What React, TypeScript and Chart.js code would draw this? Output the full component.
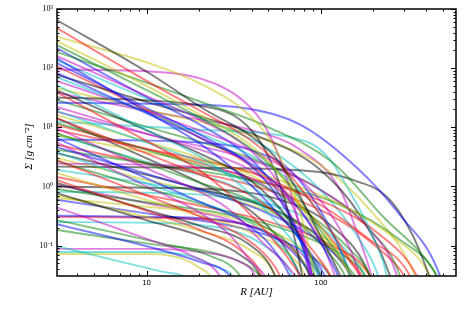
import { useEffect, useRef } from 'react';
import { Chart, registerables } from 'chart.js';

Chart.register(...registerables);

// Axis ranges and tick labels
const radiusRange = [3.06, 596];
const sigmaRange = [0.0306, 1000];
const radiusTickValues = [10, 100];
const radiusTickLabels = ['10', '100'];
const sigmaTickValues = [0.1, 1, 10, 100, 1000];
const sigmaTickLabels = ['10⁻¹', '10⁰', '10¹', '10²', '10³'];

// Colour code of each profile (matplotlib classic b g r c m y k)
const profileColorCodes = [
  'k', 'r', 'y', 'y', 'g', 'g', 'm', 'b', 'b', 'm',
  'b', 'c', 'm', 'c', 'k', 'r', 'k', 'b', 'm', 'c',
  'y', 'r', 'g', 'c', 'm', 'r', 'g', 'b', 'm', 'b',
  'b', 'c', 'k', 'r', 'g', 'm', 'k', 'y', 'r', 'r',
  'k', 'k', 'g', 'c', 'k', 'y', 'y', 'm', 'b', 'r',
  'g', 'c', 'b', 'c', 'm', 'c', 'y', 'y', 'r', 'm',
  'g', 'c', 'b', 'g', 'r', 'c', 'y', 'm', 'b', 'k',
  'g', 'r', 'y', 'c', 'm', 'k',
];

// Surface density profiles: [R (AU), Sigma (g cm^-2)]
const surfaceDensityProfiles: [number, number][][] = [
  [[3, 668], [10.4, 81], [20.2, 22.4], [51, 3.9], [66.4, 1.4], [92, 0.224], [129, 0.031], [147, 0.012]],
  [[3, 490], [10.4, 57], [20.2, 19.2], [39, 6.2], [66, 1.58], [99, 0.33], [147, 0.057], [172, 0.031], [195, 0.014]],
  [[3, 344], [10.4, 120], [20.2, 55], [35.7, 20], [51, 6.2], [66, 1.3], [81, 0.185], [92, 0.031], [99, 0.012]],
  [[3, 295], [10.4, 47], [20.2, 16.4], [39, 5.1], [58, 1.58], [86.5, 0.27], [129, 0.057], [151, 0.031], [165, 0.016]],
  [[3, 252], [10.4, 40], [20.2, 14.6], [39, 4.5], [66, 1.07], [99, 0.185], [147, 0.039], [157, 0.031], [175, 0.016]],
  [[3, 192], [20.2, 27.3], [49, 10.3], [117, 2.52], [227, 0.31], [440, 0.039], [482, 0.022]],
  [[3, 164], [10.4, 32], [20.2, 13.5], [39, 4.2], [58, 1.07], [76, 0.224], [89, 0.031], [94, 0.012]],
  [[3, 152], [10.4, 17.1], [20.2, 5.3], [34.3, 1.58], [51, 0.49], [76, 0.125], [105, 0.031], [115, 0.015]],
  [[3, 125], [10.4, 20], [20.2, 7.5], [39, 2.33], [58, 0.6], [76, 0.125], [89, 0.031], [95, 0.012]],
  [[3, 95], [10.4, 88], [20.2, 67], [35.7, 28.4], [49, 9.1], [64, 1.3], [76, 0.185], [86.5, 0.031], [90, 0.012]],
  [[3, 84.5], [10.4, 16.4], [20.2, 6.7], [44.7, 1.92], [76, 0.4], [113, 0.057], [125, 0.031], [137, 0.012]],
  [[3, 72], [10.4, 17.1], [20.2, 7.8], [39, 3.44], [76, 0.88], [113, 0.185], [147, 0.031], [157, 0.012]],
  [[3, 62], [10.4, 17.7], [20.2, 8.8], [44.7, 3.44], [76, 1.3], [129, 0.185], [167, 0.031], [179, 0.012]],
  [[3, 53], [10.4, 8.45], [20.2, 3.2], [34.3, 1.07], [51, 0.33], [76, 0.085], [99, 0.031], [110, 0.016]],
  [[3, 43.5], [10.4, 8.45], [20.2, 3.58], [39, 1.3], [66, 0.27], [86.5, 0.07], [99, 0.031], [105, 0.016]],
  [[3, 40], [10.4, 5.5], [20.2, 1.85], [30, 0.72], [44.7, 0.224], [76, 0.031], [86, 0.015]],
  [[3, 32], [10.4, 28.4], [20.2, 23.3], [34.3, 13.5], [47.7, 4.2], [62, 0.6], [73, 0.085], [78, 0.031], [81, 0.015]],
  [[3, 26], [10.4, 25], [34.3, 21.6], [76, 11.1], [161, 2.07], [284, 0.33], [482, 0.031], [514, 0.015]],
  [[3, 22.4], [10.4, 7.5], [20.2, 4.2], [39, 1.92], [66, 0.6], [99, 0.125], [120, 0.031], [130, 0.014]],
  [[3, 19.2], [10.4, 5.3], [20.2, 2.62], [39, 1.07], [58, 0.4], [76, 0.125], [92, 0.031], [99, 0.014]],
  [[3, 16.4], [10.4, 5.5], [20.2, 3.06], [39, 1.58], [76, 0.49], [113, 0.125], [147, 0.031], [160, 0.013]],
  [[3, 14.6], [10.4, 3.44], [20.2, 1.58], [39, 0.72], [66, 0.224], [99, 0.057], [113, 0.031], [122, 0.015]],
  [[3, 12], [10.4, 4.0], [20.2, 2.24], [44.7, 1.07], [86.5, 0.33], [147, 0.085], [191, 0.031], [205, 0.015]],
  [[3, 12.5], [20.2, 9.1], [83, 5.7], [113, 2.83], [141, 0.99], [191, 0.185], [239, 0.031], [249, 0.015]],
  [[3, 9.9], [10.4, 1.92], [20.2, 0.81], [30, 0.4], [44.7, 0.125], [71, 0.031], [80, 0.016]],
  [[3, 9.1], [10.4, 4.2], [20.2, 2.84], [44.7, 1.52], [99, 0.49], [191, 0.125], [324, 0.031], [346, 0.018]],
  [[3, 8.1], [10.4, 2.33], [20.2, 1.16], [39, 0.6], [76, 0.224], [113, 0.07], [137, 0.031], [147, 0.016]],
  [[3, 6.7], [10.4, 1.3], [20.2, 0.55], [34.3, 0.273], [51, 0.103], [66, 0.031], [72, 0.014]],
  [[3, 5.7], [10.4, 0.95], [20.2, 0.36], [30, 0.152], [39, 0.057], [47.7, 0.031], [52, 0.018]],
  [[3, 6.2], [10.4, 5.95], [20.2, 5.5], [39, 4.2], [66, 1.92], [99, 0.4], [129, 0.085], [147, 0.031], [157, 0.014]],
  [[3, 4.7], [10.4, 1.58], [20.2, 0.88], [44.7, 0.4], [86.5, 0.152], [129, 0.057], [151, 0.031], [165, 0.015]],
  [[3, 3.87], [10.4, 1.07], [20.2, 0.55], [39, 0.25], [58, 0.103], [76, 0.031], [82, 0.014]],
  [[3, 3.7], [10.4, 1.52], [20.2, 0.91], [44.7, 0.49], [86.5, 0.185], [129, 0.057], [147, 0.031], [157, 0.015]],
  [[3, 2.84], [10.4, 0.67], [20.2, 0.31], [34.3, 0.152], [51, 0.057], [58, 0.031], [62, 0.016]],
  [[3, 2.73], [10.4, 0.91], [20.2, 0.51], [39, 0.273], [66, 0.103], [86.5, 0.031], [93, 0.015]],
  [[3, 2.42], [10.4, 2.33], [20.2, 2.07], [39, 1.4], [58, 0.6], [76, 0.152], [89, 0.031], [93, 0.015]],
  [[3, 2.16], [20.2, 2.07], [95, 1.77], [157, 1.25], [239, 0.67], [324, 0.185], [406, 0.039], [434, 0.021]],
  [[3, 1.71], [10.4, 0.57], [20.2, 0.32], [39, 0.171], [66, 0.07], [81, 0.031], [86, 0.016]],
  [[3, 1.46], [10.4, 0.7], [20.2, 0.47], [51, 0.25], [113, 0.103], [191, 0.031], [210, 0.015]],
  [[3, 1.3], [10.4, 0.37], [20.2, 0.185], [34.3, 0.085], [45.8, 0.031], [49, 0.016]],
  [[3, 1.16], [10.4, 0.39], [20.2, 0.216], [39, 0.103], [54.5, 0.031], [58, 0.016]],
  [[3, 0.99], [10.4, 0.95], [26.3, 0.88], [58, 0.6], [113, 0.224], [191, 0.031], [205, 0.015]],
  [[3, 0.91], [10.4, 0.53], [30, 0.33], [76, 0.152], [147, 0.057], [179, 0.031], [195, 0.016]],
  [[3, 0.81], [10.4, 0.78], [26.3, 0.67], [51, 0.4], [76, 0.125], [96, 0.031], [102, 0.015]],
  [[3, 0.78], [10.4, 0.26], [20.2, 0.146], [34.3, 0.07], [44.7, 0.031], [48, 0.016]],
  [[3, 0.72], [10.4, 0.295], [20.2, 0.177], [39, 0.085], [54.5, 0.031], [58, 0.016]],
  [[3, 0.64], [10.4, 0.45], [26.3, 0.33], [51, 0.185], [86.5, 0.07], [113, 0.031], [122, 0.016]],
  [[3, 0.45], [10.4, 0.125], [17.7, 0.07], [26.3, 0.031], [29, 0.016]],
  [[3, 0.32], [10.4, 0.306], [26.3, 0.273], [51, 0.152], [76, 0.057], [86.5, 0.031], [91, 0.016]],
  [[3, 0.306], [10.4, 0.295], [30, 0.252], [58, 0.125], [86.5, 0.031], [92, 0.016]],
  [[3, 0.273], [11.9, 0.111], [23.1, 0.067], [34.3, 0.031], [38, 0.016]],
  [[3, 0.25], [10.4, 0.243], [26.3, 0.2], [51, 0.085], [68, 0.031], [72, 0.016]],
  [[3, 0.233], [11.9, 0.085], [20.2, 0.053], [30, 0.031], [33, 0.018]],
  [[3, 0.099], [11.9, 0.037], [17, 0.029], [20, 0.02]],
  [[3, 0.088], [10.4, 0.088], [20.2, 0.078], [34.3, 0.053], [41.8, 0.031], [44, 0.018]],
  [[3, 0.078], [10.4, 0.078], [17.7, 0.067], [26.3, 0.041], [31, 0.031], [33, 0.018]],
  [[3, 0.072], [10.4, 0.072], [15.5, 0.062], [20.2, 0.042], [23.1, 0.031], [25, 0.018]],
  [[3, 7.5], [10.4, 3.7], [39, 1.77], [113, 0.6], [249, 0.152], [422, 0.031], [451, 0.018]],
  [[3, 11.1], [10.4, 4.2], [39, 1.4], [113, 0.49], [218, 0.152], [355, 0.031], [380, 0.018]],
  [[3, 18.5], [10.4, 7.5], [39, 2.84], [99, 0.88], [191, 0.185], [273, 0.031], [284, 0.018]],
  [[3, 4.2], [10.4, 2.42], [39, 1.3], [129, 0.49], [284, 0.125], [463, 0.031], [494, 0.018]],
  [[3, 140], [10.4, 29.5], [20.2, 14.6], [51, 4.2], [99, 0.88], [167, 0.125], [213, 0.031], [225, 0.016]],
  [[3, 224], [10.4, 30.6], [20.2, 11.1], [39, 3.06], [58, 0.72], [76, 0.125], [86.5, 0.031], [91, 0.016]],
  [[3, 29.5], [10.4, 9.9], [39, 3.06], [99, 0.88], [191, 0.185], [284, 0.031], [300, 0.016]],
  [[3, 5.1], [10.4, 2.42], [39, 1.07], [113, 0.33], [218, 0.085], [300, 0.031], [330, 0.016]],
  [[3, 1.92], [10.4, 1.11], [39, 0.6], [86.5, 0.273], [147, 0.07], [179, 0.031], [195, 0.016]],
  [[3, 3.06], [10.4, 1.25], [39, 0.49], [99, 0.152], [167, 0.047], [191, 0.031], [210, 0.016]],
  [[3, 1.07], [10.4, 0.51], [30, 0.273], [66, 0.103], [99, 0.031], [110, 0.016]],
  [[3, 0.6], [10.4, 0.344], [34.3, 0.2], [76, 0.085], [113, 0.031], [125, 0.016]],
  [[3, 78], [10.4, 26], [39, 8.1], [99, 1.92], [167, 0.33], [249, 0.031], [265, 0.016]],
  [[3, 0.185], [10.4, 0.107], [26.3, 0.07], [44.7, 0.031], [50, 0.018]],
  [[3, 111], [10.4, 18.5], [20.2, 6.7], [39, 2.33], [76, 0.49], [129, 0.085], [167, 0.031], [185, 0.016]],
  [[3, 47], [10.4, 19.2], [39, 7.5], [99, 2.33], [191, 0.4], [346, 0.031], [370, 0.016]],
  [[3, 7.5], [10.4, 2.52], [30, 1.07], [58, 0.33], [86.5, 0.07], [101, 0.031], [108, 0.016]],
  [[3, 38.7], [10.4, 18.5], [39, 9.1], [76, 4.2], [129, 0.88], [167, 0.125], [195, 0.031], [205, 0.016]],
  [[3, 14.6], [10.4, 2.84], [20.2, 1.16], [39, 0.4], [58, 0.125], [76, 0.031], [82, 0.016]],
];

const palette: Record<string, string> = {
  b: 'rgba(0,0,255,0.5)',
  g: 'rgba(0,128,0,0.5)',
  r: 'rgba(255,0,0,0.5)',
  c: 'rgba(0,191,191,0.5)',
  m: 'rgba(191,0,191,0.5)',
  y: 'rgba(191,191,0,0.5)',
  k: 'rgba(0,0,0,0.5)',
};

// Draws the axes frame and inward-pointing log ticks on all four sides
const frameTicksPlugin = {
  id: 'frameTicks',
  afterDatasetsDraw(chart: any) {
    const { ctx, chartArea: a, scales } = chart;
    const xs = scales.x;
    const ys = scales.y;
    ctx.save();
    ctx.strokeStyle = '#000';
    ctx.lineWidth = 1;
    const seg = (x1: number, y1: number, x2: number, y2: number) => {
      ctx.beginPath();
      ctx.moveTo(x1, y1);
      ctx.lineTo(x2, y2);
      ctx.stroke();
    };
    for (let d = 0; d <= 2; d++) {
      for (let m = 1; m <= 9; m++) {
        const v = m * Math.pow(10, d);
        if (v < xs.min || v > xs.max) continue;
        const len = m === 1 ? 5 : 2.5;
        const px = Math.round(xs.getPixelForValue(v)) + 0.5;
        seg(px, a.bottom, px, a.bottom - len);
        seg(px, a.top, px, a.top + len);
      }
    }
    for (let d = -2; d <= 3; d++) {
      for (let m = 1; m <= 9; m++) {
        const v = m * Math.pow(10, d);
        if (v < ys.min || v > ys.max) continue;
        const len = m === 1 ? 5 : 2.5;
        const py = Math.round(ys.getPixelForValue(v)) + 0.5;
        seg(a.left, py, a.left + len, py);
        seg(a.right, py, a.right - len, py);
      }
    }
    ctx.lineWidth = 1.5;
    ctx.strokeRect(a.left, a.top, a.right - a.left, a.bottom - a.top);
    ctx.restore();
  },
};

export default function App() {
  const canvasRef = useRef<HTMLCanvasElement>(null);

  useEffect(() => {
    const canvas = canvasRef.current;
    if (!canvas) return;
    const chart = new Chart(canvas, {
      type: 'line',
      data: {
        datasets: surfaceDensityProfiles.map((profile, i) => ({
          data: profile.map(([x, y]) => ({ x, y })),
          borderColor: palette[profileColorCodes[i]],
          borderWidth: 1.9,
          pointRadius: 0,
          fill: false,
          cubicInterpolationMode: 'monotone' as const,
        })),
      },
      options: {
        animation: false,
        responsive: false,
        devicePixelRatio: 1,
        events: [],
        layout: { padding: { left: 0, right: 15, top: 9, bottom: 0 } },
        plugins: { legend: { display: false }, tooltip: { enabled: false } },
        scales: {
          x: {
            type: 'logarithmic',
            position: 'bottom',
            min: radiusRange[0],
            max: radiusRange[1],
            grid: { display: false, drawTicks: false },
            border: { display: false },
            afterBuildTicks: (s: any) => {
              s.ticks = radiusTickValues.map((v) => ({ value: v }));
            },
            afterFit: (s: any) => {
              s.height = 38;
            },
            ticks: {
              autoSkip: false,
              maxRotation: 0,
              padding: 3,
              color: '#000',
              font: { family: 'DejaVu Sans', size: 7 },
              callback: (v: any) => radiusTickLabels[radiusTickValues.indexOf(Number(v))] ?? '',
            },
            title: {
              display: true,
              text: 'R [AU]',
              color: '#000',
              font: { family: 'Liberation Serif', style: 'italic', size: 11 },
              padding: { top: 0, bottom: 15 },
            },
          },
          y: {
            type: 'logarithmic',
            position: 'left',
            min: sigmaRange[0],
            max: sigmaRange[1],
            grid: { display: false, drawTicks: false },
            border: { display: false },
            afterBuildTicks: (s: any) => {
              s.ticks = sigmaTickValues.map((v) => ({ value: v }));
            },
            afterFit: (s: any) => {
              s.width = 57;
            },
            ticks: {
              autoSkip: false,
              padding: 4,
              color: '#000',
              font: { family: 'Liberation Serif', size: 8 },
              callback: (v: any) => {
                const idx = sigmaTickValues.findIndex((t) => Math.abs(t - Number(v)) / t < 1e-6);
                return idx >= 0 ? sigmaTickLabels[idx] : '';
              },
            },
            title: {
              display: true,
              text: 'Σ [g cm⁻²]   ',
              color: '#000',
              font: { family: 'Liberation Serif', style: 'italic', size: 11 },
              padding: { top: 23, bottom: 0 },
            },
          },
        },
      },
      plugins: [frameTicksPlugin],
    } as any);
    return () => chart.destroy();
  }, []);

  return (
    <div style={{ position: 'fixed', left: 0, top: 0, width: 471, height: 314, background: '#fff' }}>
      <canvas ref={canvasRef} width={471} height={314} style={{ display: 'block', width: 471, height: 314 }} />
    </div>
  );
}
